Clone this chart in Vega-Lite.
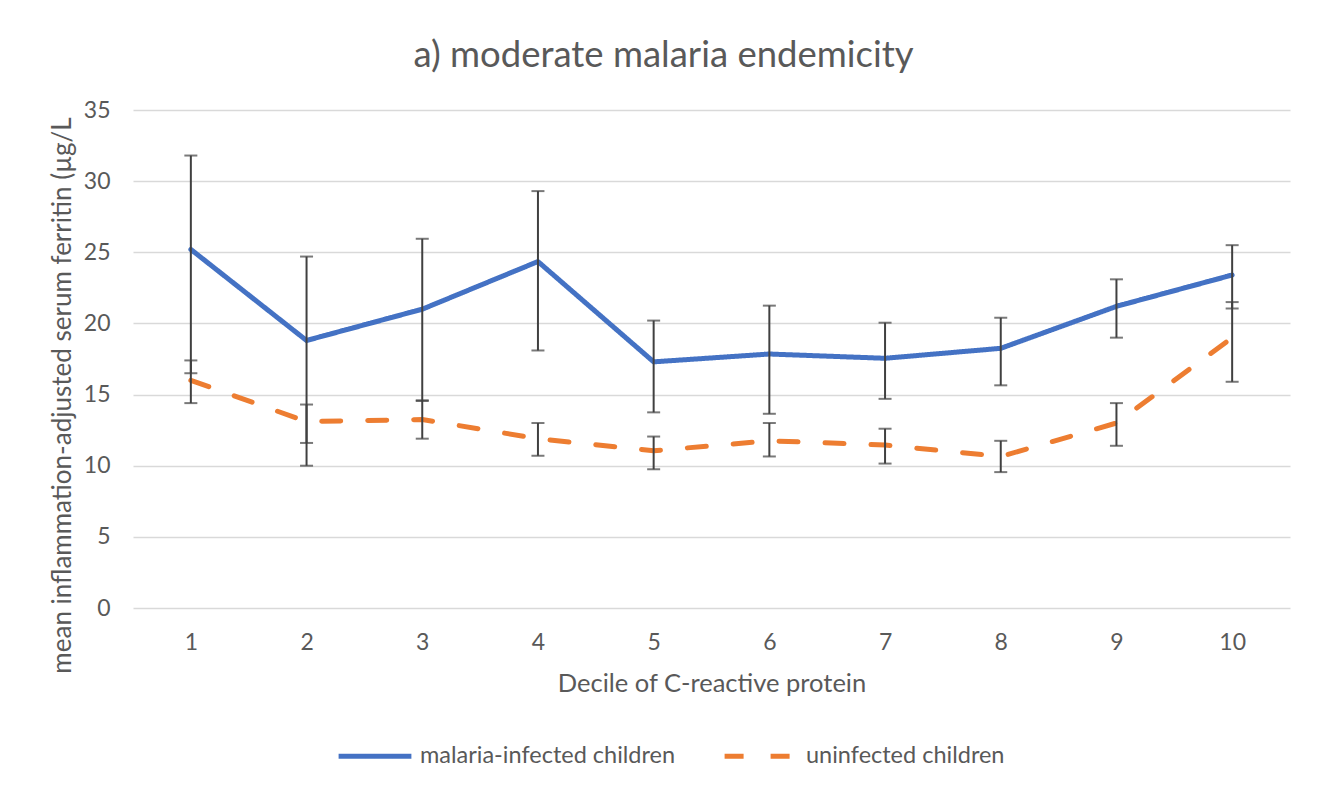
{
  "$schema": "https://vega.github.io/schema/vega-lite/v6.json",
  "autosize": {"type": "none"},
  "width": 1157,
  "height": 498,
  "padding": {"left": 133, "top": 110, "right": 37, "bottom": 184},
  "background": "white",
  "title": {
    "text": "a) moderate malaria endemicity",
    "font": "Lato",
    "fontSize": 36.5,
    "fontWeight": "normal",
    "color": "#595959",
    "anchor": "middle",
    "frame": "group",
    "dx": -48,
    "dy": 47,
    "baseline": "alphabetic",
    "offset": 43
  },
  "config": {
    "view": {"stroke": null},
    "font": "Lato"
  },
  "data": {
    "values": [
      {"decile": 1, "group": "malaria-infected children", "mean": 25.2, "lo": 16.5, "hi": 31.8},
      {"decile": 2, "group": "malaria-infected children", "mean": 18.8, "lo": 10.0, "hi": 24.7},
      {"decile": 3, "group": "malaria-infected children", "mean": 21.0, "lo": 14.55, "hi": 25.95},
      {"decile": 4, "group": "malaria-infected children", "mean": 24.35, "lo": 18.1, "hi": 29.3},
      {"decile": 5, "group": "malaria-infected children", "mean": 17.3, "lo": 13.75, "hi": 20.2},
      {"decile": 6, "group": "malaria-infected children", "mean": 17.85, "lo": 13.65, "hi": 21.25},
      {"decile": 7, "group": "malaria-infected children", "mean": 17.55, "lo": 14.7, "hi": 20.05},
      {"decile": 8, "group": "malaria-infected children", "mean": 18.25, "lo": 15.65, "hi": 20.4},
      {"decile": 9, "group": "malaria-infected children", "mean": 21.2, "lo": 19.0, "hi": 23.1},
      {"decile": 10, "group": "malaria-infected children", "mean": 23.4, "lo": 21.05, "hi": 25.5},
      {"decile": 1, "group": "uninfected children", "mean": 16.0, "lo": 14.4, "hi": 17.4},
      {"decile": 2, "group": "uninfected children", "mean": 13.1, "lo": 11.6, "hi": 14.3},
      {"decile": 3, "group": "uninfected children", "mean": 13.25, "lo": 11.9, "hi": 14.6},
      {"decile": 4, "group": "uninfected children", "mean": 11.9, "lo": 10.7, "hi": 13.0},
      {"decile": 5, "group": "uninfected children", "mean": 11.05, "lo": 9.75, "hi": 12.05},
      {"decile": 6, "group": "uninfected children", "mean": 11.75, "lo": 10.65, "hi": 13.0},
      {"decile": 7, "group": "uninfected children", "mean": 11.45, "lo": 10.15, "hi": 12.6},
      {"decile": 8, "group": "uninfected children", "mean": 10.65, "lo": 9.55, "hi": 11.75},
      {"decile": 9, "group": "uninfected children", "mean": 13.0, "lo": 11.4, "hi": 14.4},
      {"decile": 10, "group": "uninfected children", "mean": 19.0, "lo": 15.9, "hi": 21.5}
    ]
  },
  "encoding": {
    "x": {
      "field": "decile",
      "type": "ordinal",
      "scale": {"type": "point", "padding": 0.5},
      "axis": {
        "labelAngle": 0,
        "domain": false,
        "ticks": false,
        "grid": false,
        "labelFont": "Lato",
        "labelFontSize": 23,
        "labelColor": "#595959",
        "labelPadding": 23,
        "title": "Decile of C-reactive protein",
        "titleFont": "Lato",
        "titleFontSize": 25.5,
        "titleFontWeight": "normal",
        "titleColor": "#595959",
        "titleBaseline": "alphabetic",
        "titleY": 83
      }
    }
  },
  "layer": [
    {
      "mark": {"type": "line", "strokeWidth": 5, "strokeCap": "round", "strokeJoin": "round"},
      "encoding": {
        "y": {
          "field": "mean",
          "type": "quantitative",
          "scale": {"domain": [0, 35]},
          "axis": {
            "values": [0, 5, 10, 15, 20, 25, 30, 35],
            "grid": true,
            "gridColor": "#D9D9D9",
            "gridWidth": 1.5,
            "domain": false,
            "ticks": false,
            "labelFont": "Lato",
            "labelFontSize": 23,
            "labelColor": "#595959",
            "labelPadding": 23,
            "title": "mean inflammation-adjusted serum ferritin (µg/L",
            "titleFont": "Lato",
            "titleFontSize": 26,
            "titleFontWeight": "normal",
            "titleColor": "#595959",
            "titleAngle": 270,
            "titleAlign": "center",
            "titleBaseline": "alphabetic",
            "titleX": -63,
            "titleY": 285
          }
        },
        "color": {
          "field": "group",
          "type": "nominal",
          "scale": {"domain": ["malaria-infected children", "uninfected children"], "range": ["#4472C4", "#ED7D31"]},
          "legend": {
            "title": null,
            "orient": "none",
            "legendX": 203,
            "legendY": 607,
            "direction": "horizontal",
            "symbolType": "stroke",
            "symbolSize": 5300,
            "symbolStrokeWidth": 5,
            "labelFont": "Lato",
            "labelFontSize": 23.5,
            "labelColor": "#595959",
            "labelLimit": 500,
            "labelOffset": 6,
            "columnPadding": 38
          }
        },
        "strokeDash": {
          "field": "group",
          "type": "nominal",
          "scale": {"domain": ["malaria-infected children", "uninfected children"], "range": [[1, 0], [19, 27]]},
          "legend": {
            "title": null,
            "orient": "none",
            "legendX": 203,
            "legendY": 607,
            "direction": "horizontal",
            "symbolType": "stroke",
            "symbolSize": 5300,
            "symbolStrokeWidth": 5,
            "labelFont": "Lato",
            "labelFontSize": 23.5,
            "labelColor": "#595959",
            "labelLimit": 500,
            "labelOffset": 6,
            "columnPadding": 38
          }
        }
      }
    },
    {
      "mark": {"type": "rule", "color": "#404040", "strokeWidth": 2},
      "encoding": {
        "y": {"field": "lo", "type": "quantitative"},
        "y2": {"field": "hi"}
      }
    },
    {
      "mark": {"type": "tick", "color": "#404040", "thickness": 2, "size": 13},
      "encoding": {"y": {"field": "lo", "type": "quantitative"}}
    },
    {
      "mark": {"type": "tick", "color": "#404040", "thickness": 2, "size": 13},
      "encoding": {"y": {"field": "hi", "type": "quantitative"}}
    }
  ]
}
